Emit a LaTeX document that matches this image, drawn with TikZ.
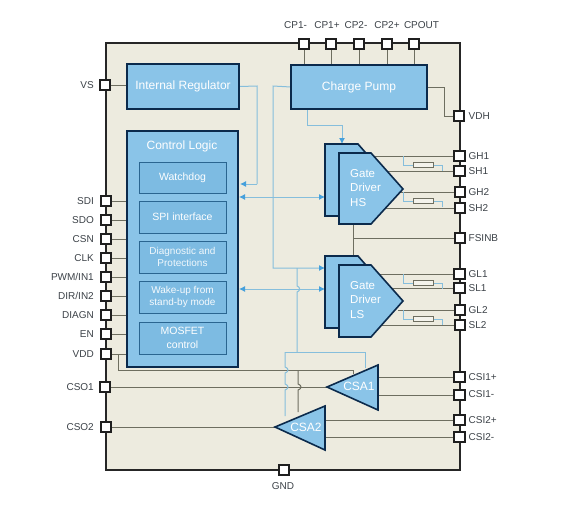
\documentclass[tikz,border=0pt]{standalone}
\usepackage{fontspec}
\setmainfont{Liberation Sans}
\usetikzlibrary{arrows.meta}
\definecolor{chipbg}{HTML}{EDEBDF}
\definecolor{blockblue}{HTML}{8AC4E8}
\definecolor{innerblue}{HTML}{7DBBE2}
\definecolor{navy}{HTML}{0B2A4C}
\definecolor{innerline}{HTML}{2A6590}
\definecolor{wire}{HTML}{6E6E60}
\definecolor{bluewire}{HTML}{86BEDC}
\definecolor{tipblue}{HTML}{45A0DC}
\definecolor{labelgray}{HTML}{3C4248}
\tikzset{
  pin/.style={draw=black!88,fill=white,line width=1.6pt,minimum size=10.5pt,inner sep=0pt},
  pinlabel/.style={text=labelgray,font=\fontsize{10}{12}\selectfont,inner sep=0pt},
  block/.style={draw=navy,fill=blockblue,line width=1.6pt,inner sep=0pt,text=white,align=center,font=\fontsize{12}{14}\selectfont},
  innerbox/.style={draw=innerline,fill=innerblue,line width=1pt,inner sep=0pt,minimum width=87pt,text=white,align=center,font=\fontsize{10.5}{14}\selectfont},
  shapeblock/.style={draw=navy,fill=blockblue,line width=1.6pt,line join=miter},
  shapetext/.style={text=white,inner sep=0pt,align=left,font=\fontsize{11.5}{14.5}\selectfont},
  wireline/.style={draw=wire,line width=1pt},
  bluewireline/.style={draw=bluewire,line width=1pt},
  tiparrow/.style={-{Latex[length=6pt,width=6pt,color=tipblue]},draw=bluewire,line width=1pt},
  tiparrows/.style={{Latex[length=6pt,width=6pt,color=tipblue]}-{Latex[length=6pt,width=6pt,color=tipblue]},draw=bluewire,line width=1pt},
  resistor/.style={draw=wire,fill=chipbg!60!white,line width=1pt,minimum width=20pt,minimum height=5.5pt,inner sep=0pt},
}
\begin{document}
\begin{tikzpicture}[x=1pt,y=-1pt]
\useasboundingbox (0,0) rectangle (574,515);
\fill[white] (0,0) rectangle (574,515);
\draw[black!85,fill=chipbg,line width=1.5pt] (106,43) rectangle (460,470);

% pins
\foreach \n/\x/\y in {cpa/304/44,cpb/331/44,cpc/359/44,cpd/387/44,cpe/414/44,
  vdh/459/116,ghone/459.5/156,shone/459.5/171,ghtwo/460/192,shtwo/460/208,fsinb/460/238,
  glone/459.5/274,slone/459.5/288,gltwo/460/310,sltwo/460/325,
  csipa/459.5/377,csima/459.5/395,csipb/459.5/420,csimb/459.5/437,
  vs/105/85,sdi/106/201,sdo/106/220,csn/106/239,clk/106/258,pwm/106/277,dir/106/296,diagn/106/315,en/106/334,vdd/106/354,
  csoa/105/387,csob/106/427,gnd/284/470}{
  \node[pin] (\n) at (\x,\y) {};
}
% labels
\foreach \n/\x/\t in {la/295.5/CP1-,lb/327/CP1+,lc/356/CP2-,ld/387/CP2+,le/421.5/CPOUT}{
  \node[pinlabel] (\n) at (\x,25) {\t};
}
\foreach \n/\y/\t in {lf/116/VDH,lg/156/GH1,lh/171/SH1,li/192/GH2,lj/208/SH2,lk/238/FSINB,
  ll/274/GL1,lm/288/SL1,ln/310/GL2,lo/325/SL2,lp/377/CSI1+,lq/394/CSI1-,lr/420/CSI2+,ls/437/CSI2-}{
  \node[pinlabel,anchor=west] (\n) at (468.5,\y) {\t};
}
\foreach \n/\y/\t in {lt/85/VS,lu/201/SDI,lv/220/SDO,lw/239/CSN,lx/258/CLK,ly/277/{PWM/IN1},lz/296/{DIR/IN2},lA/315/DIAGN,lB/334/EN,lC/354/VDD,lD/387/CSO1,lE/427/CSO2}{
  \node[pinlabel,anchor=east] (\n) at (94,\y) {\t};
}
\node[pinlabel] (lgnd) at (283,486) {GND};

% block anchors
\coordinate (hsback) at (325,144);
\coordinate (lsback) at (325,256);
\coordinate (hstip) at (403,189);
\coordinate (lstip) at (403,301);
\coordinate (csaatip) at (327,387);
\coordinate (csabtip) at (275,427);
\coordinate (csaaback) at (378,387);
\coordinate (csabback) at (325,427);

% named blocks (only the nodes, so wires can refer to them; drawn over wires later)
\path (359,87) node[minimum width=136pt,minimum height=44pt,inner sep=0pt] (cpump) {};
\path (183,86.5) node[minimum width=112pt,minimum height=45pt,inner sep=0pt] (reg) {};
\path (182.5,249) node[minimum width=111pt,minimum height=236pt,inner sep=0pt] (ctl) {};

% grey wires
\foreach \p in {cpa,cpb,cpc,cpd,cpe}{ \draw[wireline] (\p) -- (\p |- cpump.north); }
\draw[wireline] (cpump.east) -- (444,87) -- (444,116) -- (vdh);
\draw[wireline] (vs) -- (reg.west |- vs);
\foreach \p in {sdi,sdo,csn,clk,pwm,dir,diagn,en}{ \draw[wireline] (\p) -- (ctl.west |- \p); }
\draw[wireline] (vdd) -- (ctl.west |- vdd);
\foreach \a/\x in {ghone/375,shone/380,ghtwo/398,shtwo/380,glone/375,slone/380,gltwo/398,sltwo/380}{
  \draw[wireline] (\a) -- (\x,0 |- \a);
}
\draw[wireline] (fsinb) -- (353,238);
\draw[wireline] (353,224) -- (353,256);
\draw[wireline] (118,354) -- (118,370) -- (353,370) -- (353,374);
\draw[wireline] (298,370) -- (298,384) .. controls (302,385) and (302,389) .. (298,390) -- (298,412);
\draw[wireline] (csoa) -- (csaatip);
\draw[wireline] (csob) -- (csabtip);
\foreach \a in {csipa,csima}{ \draw[wireline] (\a) -- (csaaback |- \a); }
\foreach \a in {csipb,csimb}{ \draw[wireline] (\a) -- (csabback |- \a); }

% blue wires with resistors
\foreach \y/\a/\n in {156/ghone/ra,192/ghtwo/rb,274/glone/rc,310/gltwo/rd}{
  \node[resistor] (\n) at (423,\y+9) {};
  \draw[bluewireline] (403,\y) -- (403,\y+9) -- (\n.west);
  \draw[bluewireline] (\n.east) -- (442,\y+9) -- (442,\y+15);
}
\draw[bluewireline] (reg.east) -- (257,86) -- (257,184);
\draw[tiparrow] (257,184) -- (240,184);
\draw[tiparrow] (307,109) -- (307,125) -- (342,125) -- (342,144);
\draw[tiparrow] (cpump.west) -- (273,86) -- (273,268) -- (325,268);
\draw[tiparrows] (239,197) -- (325,197);
\draw[tiparrows] (239,289) -- (325,289);
\draw[bluewireline] (297,268) -- (297,286) .. controls (300.5,287) and (300.5,291) .. (297,292) -- (297,352);
\draw[bluewireline] (285,352) -- (365,352) -- (365,368);
\draw[bluewireline] (285,352) -- (285,367) .. controls (289,368) and (289,372) .. (285,373) -- (285,384) .. controls (289,385) and (289,389) .. (285,390) -- (285,416);

% blocks
\node[block,minimum width=136pt,minimum height=44pt] (cpumpbox) at (cpump) {Charge Pump};
\node[block,minimum width=112pt,minimum height=45pt] (regbox) at (reg) {Internal Regulator};
\draw[shapeblock] (ctl.north west) rectangle (ctl.south east);
\node[text=white,inner sep=0pt,font=\fontsize{12}{14}\selectfont] (ctltitle) at (182,146) {Control Logic};
\node[innerbox,minimum height=31pt] (wd) at (182.5,177.5) {Watchdog};
\node[innerbox,minimum height=32pt] (spi) at (182.5,217) {SPI interface};
\node[innerbox,minimum height=32pt,font=\fontsize{10}{12.5}\selectfont,text=white!88!blockblue] (diag) at (182.5,257) {Diagnostic and\\Protections};
\node[innerbox,minimum height=32pt,font=\fontsize{10}{12.5}\selectfont,text=white!92!blockblue] (wake) at (182.5,297) {Wake-up from\\stand-by mode};
\node[innerbox,minimum height=32pt,font=\fontsize{10.5}{13.5}\selectfont] (mos) at (182.5,338) {MOSFET\\control};

\draw[shapeblock] (hsback) -- (358,144) -- (372,160) -- (372,216) -- (325,216) -- cycle;
\draw[shapeblock] (339,153) -- (371,153) -- (hstip) -- (371,224) -- (339,224) -- cycle;
\node[shapetext,anchor=west] (hstext) at (350,188) {Gate\\Driver\\HS};
\draw[shapeblock] (lsback) -- (358,256) -- (372,272) -- (372,328) -- (325,328) -- cycle;
\draw[shapeblock] (339,265) -- (371,265) -- (lstip) -- (371,337) -- (339,337) -- cycle;
\node[shapetext,anchor=west] (lstext) at (350,300) {Gate\\Driver\\LS};
\draw[shapeblock] (csaatip) -- (378,365) -- (378,410) -- cycle;
\node[text=white,inner sep=0pt,font=\fontsize{12}{14}\selectfont] (csaatext) at (359,386) {CSA1};
\draw[shapeblock] (csabtip) -- (325,406) -- (325,450) -- cycle;
\node[text=white,inner sep=0pt,font=\fontsize{12}{14}\selectfont] (csabtext) at (306,427) {CSA2};
\end{tikzpicture}
\end{document}
